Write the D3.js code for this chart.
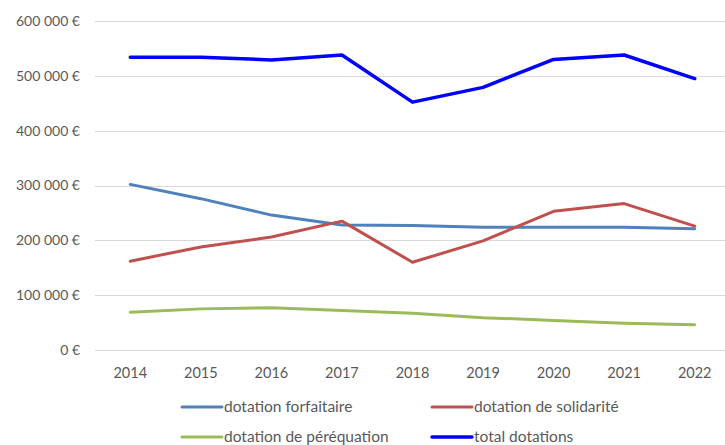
<!DOCTYPE html>
<html lang="fr">
<head>
<meta charset="UTF-8">
<title>Dotations 2014-2022</title>
<script src="https://d3js.org/d3.v7.min.js"></script>
<style>
  body { margin: 0; background: #fff; }
  text { font-family: Lato, "Open Sans", sans-serif; fill: #595959; }
</style>
</head>
<body>
<script>
// Données
const annees = ["2014", "2015", "2016", "2017", "2018", "2019", "2020", "2021", "2022"];
const forfaitaire = [302000, 276000, 246000, 228000, 227000, 224000, 224000, 224000, 221000];
const solidarite = [162000, 188000, 206000, 235000, 160000, 199000, 253000, 267000, 226000];
const perequation = [69000, 75000, 77000, 72000, 67000, 59000, 54000, 49000, 46000];
const total = [534000, 534000, 529000, 538000, 452000, 479000, 530000, 538000, 495000];
const yTicks = [0, 100000, 200000, 300000, 400000, 500000, 600000];

const series = [
  { nom: "dotation forfaitaire", valeurs: forfaitaire, couleur: "#4f81bd", ep: 3 },
  { nom: "dotation de solidarité", valeurs: solidarite, couleur: "#c0504d", ep: 3 },
  { nom: "dotation de péréquation", valeurs: perequation, couleur: "#9bbb59", ep: 3 },
  { nom: "total dotations", valeurs: total, couleur: "#0000ff", ep: 3.5 }
];

const width = 725, height = 445;
const margin = { left: 95, right: -5, top: 21, bottom: 95 };

const svg = d3.select("body").append("svg")
  .attr("width", width)
  .attr("height", height);

const x = d3.scaleBand()
  .domain(annees)
  .range([margin.left, width - margin.right]);

const y = d3.scaleLinear()
  .domain([0, 600000])
  .range([height - margin.bottom, margin.top]);

const fmt = v => d3.format(",")(v).replace(/,/g, "\u00a0") + " €";

// Grille
svg.append("g")
  .selectAll("line")
  .data(yTicks)
  .join("line")
  .attr("x1", margin.left)
  .attr("x2", width)
  .attr("y1", d => Math.round(y(d)) + 0.5)
  .attr("y2", d => Math.round(y(d)) + 0.5)
  .attr("stroke", "#d9d9d9")
  .attr("stroke-width", 1);

// Axe Y
svg.append("g")
  .selectAll("text")
  .data(yTicks)
  .join("text")
  .attr("x", 80)
  .attr("y", d => y(d))
  .attr("dy", "0.35em")
  .attr("text-anchor", "end")
  .style("font-size", "14px")
  .text(fmt);

// Axe X
svg.append("g")
  .selectAll("text")
  .data(annees)
  .join("text")
  .attr("x", d => x(d) + x.bandwidth() / 2)
  .attr("y", 373)
  .attr("dy", "0.35em")
  .attr("text-anchor", "middle")
  .style("font-size", "14.5px")
  .text(d => d);

// Courbes
const line = d3.line()
  .x((d, i) => x(annees[i]) + x.bandwidth() / 2)
  .y(d => y(d))
  .curve(d3.curveLinear);

svg.append("g")
  .selectAll("path")
  .data(series)
  .join("path")
  .attr("fill", "none")
  .attr("stroke", d => d.couleur)
  .attr("stroke-width", d => d.ep)
  .attr("stroke-linejoin", "round")
  .attr("stroke-linecap", "round")
  .attr("d", d => line(d.valeurs));

// Légende
const legPos = [[182, 407], [432, 407], [182, 437], [432, 437]];
const leg = svg.append("g")
  .selectAll("g")
  .data(series)
  .join("g")
  .attr("transform", (d, i) => "translate(" + legPos[i][0] + "," + legPos[i][1] + ")");

leg.append("line")
  .attr("x1", 0).attr("x2", 40)
  .attr("stroke", d => d.couleur)
  .attr("stroke-width", d => d.ep)
  .attr("stroke-linecap", "round");

leg.append("text")
  .attr("x", 42)
  .attr("dy", "0.35em")
  .style("font-size", "15.5px")
  .text(d => d.nom);
</script>
</body>
</html>
